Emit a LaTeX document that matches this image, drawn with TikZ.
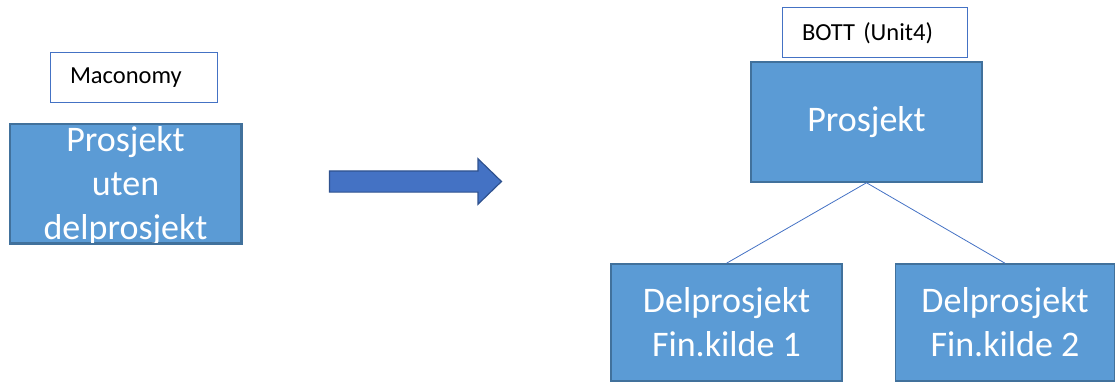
\documentclass[tikz,border=0pt]{standalone}
\usepackage{fontspec}
\setmainfont{Carlito}
\usetikzlibrary{positioning}
\usetikzlibrary{shapes.arrows}
\definecolor{boxfill}{HTML}{5B9BD5}
\definecolor{boxline}{HTML}{41719C}
\definecolor{tagline}{HTML}{4472C4}
\definecolor{arrowline}{HTML}{2F528F}
\tikzset{bluebox/.style={draw=boxline,fill=boxfill,line width=1.5pt,
           minimum width=231pt,minimum height=119pt,inner sep=0pt,
           text=white,align=center,font=\fontsize{36}{44}\selectfont},
         boxtext/.style={text=white,align=center,inner sep=0pt,
           font=\fontsize{36}{44}\selectfont},
         tagbox/.style={draw=tagline,fill=white,line width=1pt,
           minimum height=50pt,inner xsep=20pt,inner ysep=0pt,align=left,
           font=\fontsize{24.5}{29}\selectfont},
         bigarrow/.style={single arrow,draw=arrowline,fill=tagline,line width=1.2pt,
           minimum height=172pt,inner xsep=0pt,inner ysep=10pt,
           single arrow head extend=12pt,single arrow tip angle=88},
         link/.style={draw=tagline,line width=0.8pt},
         }
\begin{document}
\begin{tikzpicture}[x=1pt,y=-1pt]
\useasboundingbox (0,0) rectangle (1116,383);
% left side
\node[bluebox] (uten) at (125.5,183.5) {};
\node[boxtext] (utentext) at ([yshift=-3pt]uten.center) {Prosjekt\\uten\\delprosjekt};
\draw[boxline,line width=1.5pt] (uten.south west) rectangle (uten.north east);
\node[tagbox,text width=127pt,above=20pt of uten,xshift=8pt] (maconomy) {Maconomy};
% arrow
\node[bigarrow] (arr) at (410,181.5) {};
% right side
\node[bluebox,minimum height=120pt] (prosj) at (866.5,122) {Prosjekt};
\node[tagbox,text width=145pt,above=3pt of prosj,xshift=8pt] (bott) {BOTT (Unit4)};
\node[bluebox,minimum height=117pt] (del1) at (726.5,322.5) {Delprosjekt\\Fin.kilde 1};
\node[bluebox,minimum height=117pt,minimum width=219pt] (del2) at (1005,322.5) {Delprosjekt\\Fin.kilde 2};
\draw[link] (prosj.south) -- (del1.north);
\draw[link] (prosj.south) -- (del2.north);
\end{tikzpicture}
\end{document}
